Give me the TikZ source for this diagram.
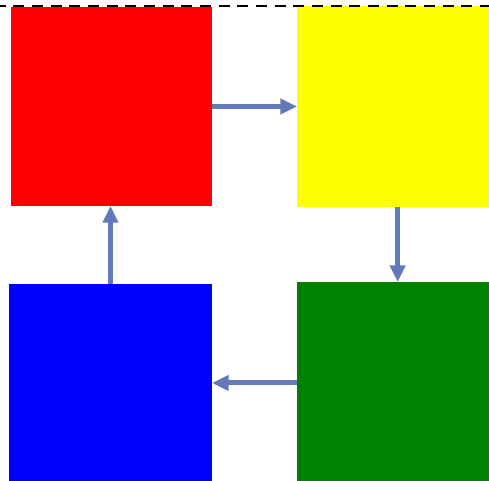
\documentclass[tikz,border=0pt]{standalone}
\usetikzlibrary{arrows.meta}
\definecolor{arrowblue}{RGB}{99,121,185}
\definecolor{sqgreen}{RGB}{0,128,0}
\definecolor{sqred}{RGB}{255,0,0}
\definecolor{sqyellow}{RGB}{255,255,0}
\definecolor{sqblue}{RGB}{0,0,255}
\begin{document}
\begin{tikzpicture}[x=0.75pt,y=-0.75pt,
  square/.style={draw=none,inner sep=0pt,outer sep=0pt,rectangle},
  flow/.style={draw=arrowblue,line width=3.75pt,
    -{Triangle[length=12.5pt,width=11.25pt]}}]
\useasboundingbox (0,0) rectangle (489,481);
\node[square,fill=sqred,minimum width=150.75pt,minimum height=149.25pt] (red) at (111.5,106.5) {};
\node[square,fill=sqyellow,minimum width=144pt,minimum height=150.75pt] (yellow) at (393,106.5) {};
\node[square,fill=sqgreen,minimum width=144pt,minimum height=149.25pt] (green) at (393,381.5) {};
\node[square,fill=sqblue,minimum width=152.25pt,minimum height=147.75pt] (blue) at (110.5,382.5) {};
\draw[flow] (red.east) -- (yellow.west);
\draw[flow] ([xshift=3.5pt]yellow.south) -- ([xshift=3.5pt]yellow.south |- green.north);
\draw[flow] ([yshift=-1.1pt]green.west) -- ([yshift=-1.1pt]green.west -| blue.east);
\draw[flow] (blue.north) -- (blue.north |- red.south);
\coordinate (dl) at (0,6);
\coordinate (dr) at (489,6);
\draw[black,line width=1.8pt,dash pattern=on 8.25pt off 5.75pt,dash phase=4pt] (dl) -- (dr);
\end{tikzpicture}
\end{document}
